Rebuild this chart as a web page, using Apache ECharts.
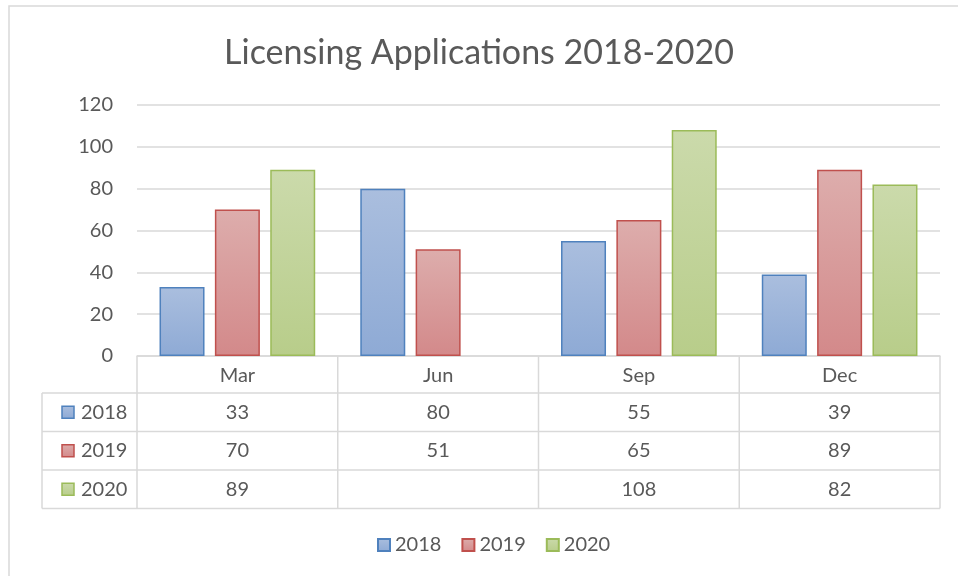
<html>
<head>
    <script type="text/javascript" src="https://cdn.jsdelivr.net/npm/echarts@6/dist/echarts.min.js"></script>
    <style>
        body { margin: 0; background: #fff; }
    </style>
</head>
<body>
<div id="main" style="width:958px; height:576px;"></div>
<script>
    // data
    var categories = ['Mar', 'Jun', 'Sep', 'Dec'];
    var years = ['2018', '2019', '2020'];
    var values2018 = [33, 80, 55, 39];
    var values2019 = [70, 51, 65, 89];
    var values2020 = [89, null, 108, 82];
    var allValues = [values2018, values2019, values2020];

    var textColor = '#595959';
    var lineColor = '#d9d9d9';
    var font = 'Lato';

    // fill top, fill bottom, border
    var palette = [
        ['#aabede', '#8eaad5', '#4f81bd'],
        ['#ddadac', '#d3898a', '#c0504d'],
        ['#cbdaab', '#b8cd8a', '#9bbb59']
    ];

    function grad(p) {
        return {
            type: 'linear', x: 0, y: 0, x2: 0, y2: 1,
            colorStops: [{offset: 0, color: p[0]}, {offset: 1, color: p[1]}]
        };
    }

    var myChart = echarts.init(document.getElementById('main'));

    var series = [];
    for (var i = 0; i < years.length; i++) {
        series.push({
            name: years[i],
            type: 'bar',
            data: allValues[i],
            barWidth: 45,
            barGap: '23%',
            itemStyle: {
                color: grad(palette[i]),
                borderColor: palette[i][2],
                borderWidth: 1.5
            }
        });
    }

    var option = {
        animation: false,
        textStyle: {fontFamily: font},
        title: {
            text: 'Licensing Applications 2018-2020',
            left: 'center',
            top: 22,
            textStyle: {fontSize: 34, fontWeight: 'normal', color: textColor, fontFamily: font}
        },
        legend: {
            data: years,
            bottom: 11,
            left: 372,
            icon: 'rect',
            itemWidth: 12,
            itemHeight: 12,
            itemGap: 20,
            textStyle: {fontSize: 20, color: textColor, fontFamily: font}
        },
        grid: {left: 137, right: 18, top: 105, bottom: 220},
        xAxis: {
            type: 'category',
            data: categories,
            axisLabel: {show: false},
            axisTick: {show: false},
            axisLine: {lineStyle: {color: lineColor, width: 1.5}}
        },
        yAxis: {
            type: 'value',
            min: 0,
            max: 120,
            interval: 20,
            axisLine: {show: false},
            axisTick: {show: false},
            axisLabel: {fontSize: 20, color: textColor, margin: 24, fontFamily: font},
            splitLine: {lineStyle: {color: lineColor, width: 1.5}}
        },
        series: series
    };

    myChart.setOption(option);

    // data table under the plot, placed from the axes
    function buildTable() {
        var x0 = myChart.convertToPixel({xAxisIndex: 0}, 0);
        var x1 = myChart.convertToPixel({xAxisIndex: 0}, 1);
        var band = x1 - x0;
        var left = x0 - band / 2;
        var right = left + band * categories.length;
        var top = myChart.convertToPixel({yAxisIndex: 0}, 0);
        var headH = 37;
        var rowH = 38.5;
        var keyLeft = left - 95;
        var bottom = top + headH + rowH * years.length;
        var els = [];

        function line(xa, ya, xb, yb) {
            els.push({type: 'line', shape: {x1: xa, y1: ya, x2: xb, y2: yb},
                style: {stroke: lineColor, lineWidth: 1.5}, silent: true});
        }
        function txt(s, x, y, align) {
            els.push({type: 'text', style: {text: s, x: x, y: y, align: align || 'center',
                verticalAlign: 'middle', fill: textColor, fontSize: 20, fontFamily: font}, silent: true});
        }

        // outer chart frame
        els.push({type: 'rect', shape: {x: 9, y: 6, width: 1200, height: 1200},
            style: {fill: null, stroke: lineColor, lineWidth: 1.5}, silent: true});

        // horizontal lines
        line(left, top + headH, right, top + headH);
        line(keyLeft, top + headH, left, top + headH);
        for (var r = 1; r <= years.length; r++) {
            line(keyLeft, top + headH + rowH * r, right, top + headH + rowH * r);
        }
        // vertical lines
        for (var c = 0; c <= categories.length; c++) {
            line(left + band * c, top, left + band * c, bottom);
        }
        line(keyLeft, top + headH, keyLeft, bottom);

        // header labels
        for (var c = 0; c < categories.length; c++) {
            txt(categories[c], myChart.convertToPixel({xAxisIndex: 0}, c), top + headH / 2 + 1);
        }
        // rows
        for (var r = 0; r < years.length; r++) {
            var cy = top + headH + rowH * r + rowH / 2;
            els.push({type: 'rect', shape: {x: keyLeft + 20, y: cy - 6, width: 12, height: 12},
                style: {fill: grad(palette[r]), stroke: palette[r][2], lineWidth: 1.5}, silent: true});
            txt(years[r], keyLeft + 39, cy, 'left');
            for (var c = 0; c < categories.length; c++) {
                var v = allValues[r][c];
                if (v !== null) {
                    txt(String(v), myChart.convertToPixel({xAxisIndex: 0}, c), cy);
                }
            }
        }
        myChart.setOption({graphic: {elements: els}});
    }

    buildTable();
</script>
</body>
</html>
